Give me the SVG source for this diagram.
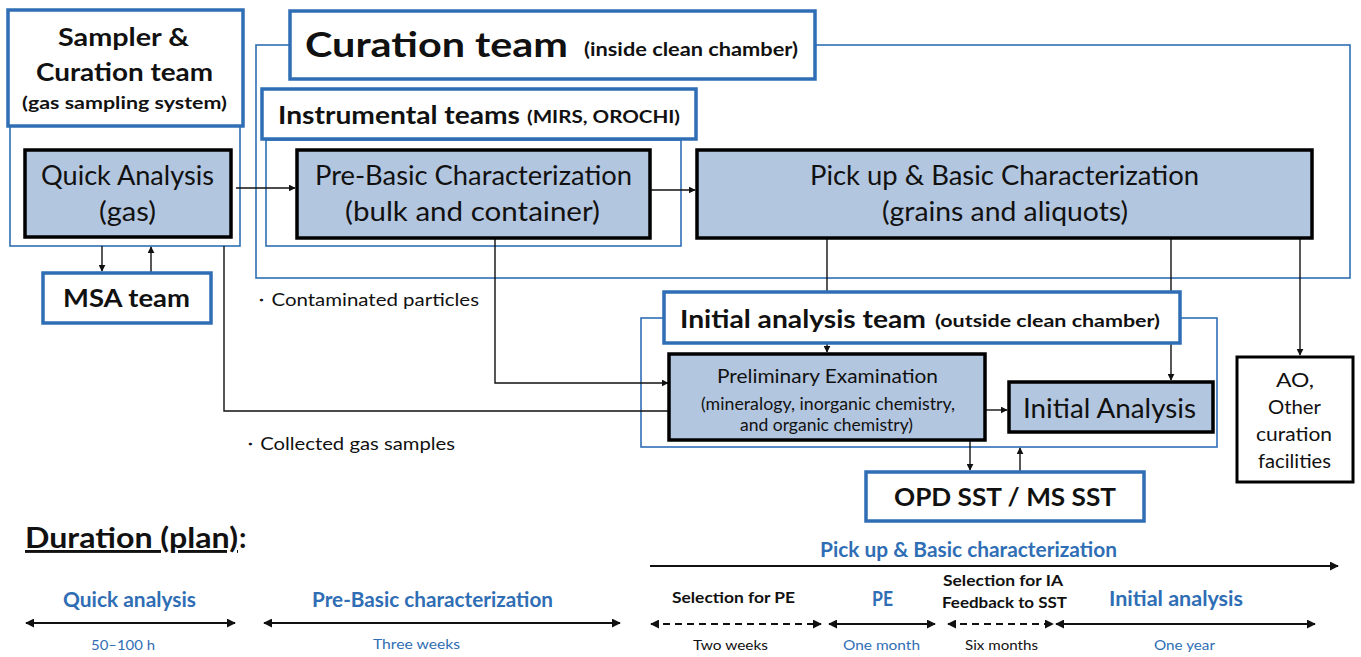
<svg xmlns="http://www.w3.org/2000/svg" width="1361" height="657" viewBox="0 0 1361 657">
<style>
text{font-family:Lato,"Open Sans","Liberation Sans",sans-serif;fill:#111}
.title{fill:#fff;stroke:#2F6EB5;stroke-width:3.5}
.frame{fill:none;stroke:#2F6EB5;stroke-width:1.6}
.proc{fill:#B3C6DF;stroke:#000;stroke-width:3.5}
.plain{fill:#fff;stroke:#000;stroke-width:3}
.b{font-weight:bold}
.blue{fill:#2F6EB5}
.ln{fill:none;stroke:#111;stroke-width:1.4}
.ar{fill:none;stroke:#111;stroke-width:1.4;marker-end:url(#ah)}
.dbl{fill:none;stroke:#111;stroke-width:1.8;marker-end:url(#ah2);marker-start:url(#ah2)}
.dash{stroke-dasharray:7 5}
</style>
<defs>
<marker id="ah" viewBox="0 0 10 10" refX="9" refY="5" markerWidth="7" markerHeight="7" markerUnits="userSpaceOnUse" orient="auto"><path d="M0,0 L10,5 L0,10 z" fill="#111"/></marker>
<marker id="ah2" viewBox="0 0 10 10" refX="9" refY="5" markerWidth="9" markerHeight="9" markerUnits="userSpaceOnUse" orient="auto-start-reverse"><path d="M0,0 L10,5 L0,10 z" fill="#111"/></marker>
</defs>

<g id="frames">
<rect class="frame" x="256" y="45" width="1094" height="233"/>
<rect class="frame" x="10" y="125" width="230" height="121"/>
<rect class="frame" x="266" y="140" width="415" height="106"/>
<rect class="frame" x="641" y="318" width="576" height="129"/>
</g>

<g id="connectors">
<line class="ar" x1="236" y1="188" x2="295" y2="188"/>
<line class="ar" x1="650" y1="190" x2="695" y2="190"/>
<line class="ar" x1="102" y1="246" x2="102" y2="271"/>
<line class="ar" x1="151" y1="272" x2="151" y2="247"/>
<polyline class="ln" points="224,246 224,411 669,411"/>
<polyline class="ar" points="495,238 495,383 668,383"/>
<line class="ar" x1="827" y1="238" x2="827" y2="352"/>
<line class="ar" x1="1171" y1="238" x2="1171" y2="380"/>
<line class="ar" x1="1300" y1="238" x2="1300" y2="355"/>
<line class="ar" x1="985" y1="410" x2="1007" y2="410"/>
<line class="ar" x1="970" y1="440" x2="970" y2="470"/>
<line class="ar" x1="1020" y1="471" x2="1020" y2="448"/>
</g>

<g id="sampler">
<rect class="title" x="8" y="10" width="235" height="116"/>
<text class="b" x="58" y="46" font-size="24" textLength="131" lengthAdjust="spacingAndGlyphs">Sampler &amp;</text>
<text class="b" x="36" y="81" font-size="24" textLength="177" lengthAdjust="spacingAndGlyphs">Curation team</text>
<text class="b" x="22" y="109" font-size="17.5" textLength="205" lengthAdjust="spacingAndGlyphs">(gas sampling system)</text>
</g>

<g id="curation">
<rect class="title" x="290" y="11" width="525" height="68"/>
<text class="b" x="305" y="57" font-size="34" textLength="263" lengthAdjust="spacingAndGlyphs">Curation team</text>
<text class="b" x="584" y="56" font-size="18" textLength="214" lengthAdjust="spacingAndGlyphs">(inside clean chamber)</text>
</g>

<g id="instrumental">
<rect class="title" x="262" y="89" width="434" height="50"/>
<text class="b" x="278" y="124" font-size="25" textLength="242" lengthAdjust="spacingAndGlyphs">Instrumental teams</text>
<text class="b" x="527" y="123" font-size="16.5" textLength="153" lengthAdjust="spacingAndGlyphs">(MIRS, OROCHI)</text>
</g>

<g id="quick">
<rect class="proc" x="25" y="150" width="206" height="87"/>
<text x="41" y="185" font-size="26" textLength="173" lengthAdjust="spacingAndGlyphs">Quick Analysis</text>
<text x="99" y="221" font-size="26" textLength="57" lengthAdjust="spacingAndGlyphs">(gas)</text>
</g>

<g id="prebasic">
<rect class="proc" x="297" y="150" width="353" height="88"/>
<text x="315" y="185" font-size="26" textLength="317" lengthAdjust="spacingAndGlyphs">Pre-Basic Characterization</text>
<text x="345" y="221" font-size="26" textLength="255" lengthAdjust="spacingAndGlyphs">(bulk and container)</text>
</g>

<g id="pickup">
<rect class="proc" x="697" y="150" width="615" height="88"/>
<text x="810" y="185" font-size="26" textLength="389" lengthAdjust="spacingAndGlyphs">Pick up &amp; Basic Characterization</text>
<text x="882" y="221" font-size="26" textLength="246" lengthAdjust="spacingAndGlyphs">(grains and aliquots)</text>
</g>

<g id="msa">
<rect class="title" x="43" y="273" width="168" height="50"/>
<text class="b" x="63" y="307" font-size="24" textLength="127" lengthAdjust="spacingAndGlyphs">MSA team</text>
</g>

<g id="notes">
<text x="251" y="306" font-size="17" textLength="228" lengthAdjust="spacingAndGlyphs">・Contaminated particles</text>
<text x="240" y="450" font-size="17" textLength="215" lengthAdjust="spacingAndGlyphs">・Collected gas samples</text>
</g>

<g id="iateam">
<rect class="title" x="664" y="292" width="516" height="51"/>
<text class="b" x="680" y="328" font-size="25" textLength="246" lengthAdjust="spacingAndGlyphs">Initial analysis team</text>
<text class="b" x="935" y="327" font-size="17.5" textLength="225" lengthAdjust="spacingAndGlyphs">(outside clean chamber)</text>
</g>

<g id="pe">
<rect class="proc" x="669" y="354" width="316" height="86"/>
<text x="717" y="383" font-size="18.5" textLength="221" lengthAdjust="spacingAndGlyphs">Preliminary Examination</text>
<text x="701" y="410" font-size="17" textLength="254" lengthAdjust="spacingAndGlyphs">(mineralogy, inorganic chemistry,</text>
<text x="740" y="431" font-size="17" textLength="173" lengthAdjust="spacingAndGlyphs">and organic chemistry)</text>
</g>

<g id="ia">
<rect class="proc" x="1009" y="382" width="204" height="50"/>
<text x="1023" y="418" font-size="26" textLength="173" lengthAdjust="spacingAndGlyphs">Initial Analysis</text>
</g>

<g id="opd">
<rect class="title" x="866" y="472" width="278" height="49"/>
<text class="b" x="894" y="506" font-size="24" textLength="222" lengthAdjust="spacingAndGlyphs">OPD SST / MS SST</text>
</g>

<g id="ao">
<rect class="plain" x="1237" y="357" width="116" height="125"/>
<text x="1276" y="387" font-size="18.5" textLength="38" lengthAdjust="spacingAndGlyphs">AO,</text>
<text x="1268" y="414" font-size="18.5" textLength="53" lengthAdjust="spacingAndGlyphs">Other</text>
<text x="1256" y="441" font-size="18.5" textLength="76" lengthAdjust="spacingAndGlyphs">curation</text>
<text x="1258" y="468" font-size="18.5" textLength="73" lengthAdjust="spacingAndGlyphs">facilities</text>
</g>

<g id="duration">
<text class="b" x="25" y="548" font-size="29" text-decoration="underline" textLength="213" lengthAdjust="spacingAndGlyphs">Duration (plan)</text>
<text class="b" x="239" y="548" font-size="29">:</text>

<text class="b blue" x="63" y="607" font-size="20" textLength="133" lengthAdjust="spacingAndGlyphs">Quick analysis</text>
<line class="dbl" x1="26" y1="623" x2="235" y2="623"/>
<text class="blue" x="91" y="650" font-size="13.5" textLength="64" lengthAdjust="spacingAndGlyphs">50–100 h</text>

<text class="b blue" x="312" y="607" font-size="20" textLength="241" lengthAdjust="spacingAndGlyphs">Pre-Basic characterization</text>
<line class="dbl" x1="264" y1="623" x2="620" y2="623"/>
<text class="blue" x="373" y="649" font-size="13.5" textLength="87" lengthAdjust="spacingAndGlyphs">Three weeks</text>

<text class="b blue" x="820" y="557" font-size="20" textLength="297" lengthAdjust="spacingAndGlyphs">Pick up &amp; Basic characterization</text>
<line class="ln" style="marker-end:url(#ah2);stroke-width:1.8" x1="650" y1="566" x2="1338" y2="566"/>

<text class="b" x="672" y="603" font-size="16" textLength="123" lengthAdjust="spacingAndGlyphs">Selection for PE</text>
<line class="dbl dash" x1="651" y1="624" x2="821" y2="624"/>
<text x="693" y="650" font-size="14" textLength="75" lengthAdjust="spacingAndGlyphs">Two weeks</text>

<text class="b blue" x="872" y="606" font-size="20" textLength="21" lengthAdjust="spacingAndGlyphs">PE</text>
<line class="dbl" x1="829" y1="624" x2="935" y2="624"/>
<text class="blue" x="843" y="650" font-size="14" textLength="77" lengthAdjust="spacingAndGlyphs">One month</text>

<text class="b" x="943" y="586" font-size="16" textLength="120" lengthAdjust="spacingAndGlyphs">Selection for IA</text>
<text class="b" x="942" y="608" font-size="16" textLength="125" lengthAdjust="spacingAndGlyphs">Feedback to SST</text>
<line class="dbl dash" x1="948" y1="624" x2="1053" y2="624"/>
<text x="965" y="650" font-size="14" textLength="73" lengthAdjust="spacingAndGlyphs">Six months</text>

<text class="b blue" x="1109" y="606" font-size="20" textLength="134" lengthAdjust="spacingAndGlyphs">Initial analysis</text>
<line class="dbl" x1="1056" y1="624" x2="1315" y2="624"/>
<text class="blue" x="1154" y="650" font-size="14" textLength="61" lengthAdjust="spacingAndGlyphs">One year</text>
</g>
</svg>
